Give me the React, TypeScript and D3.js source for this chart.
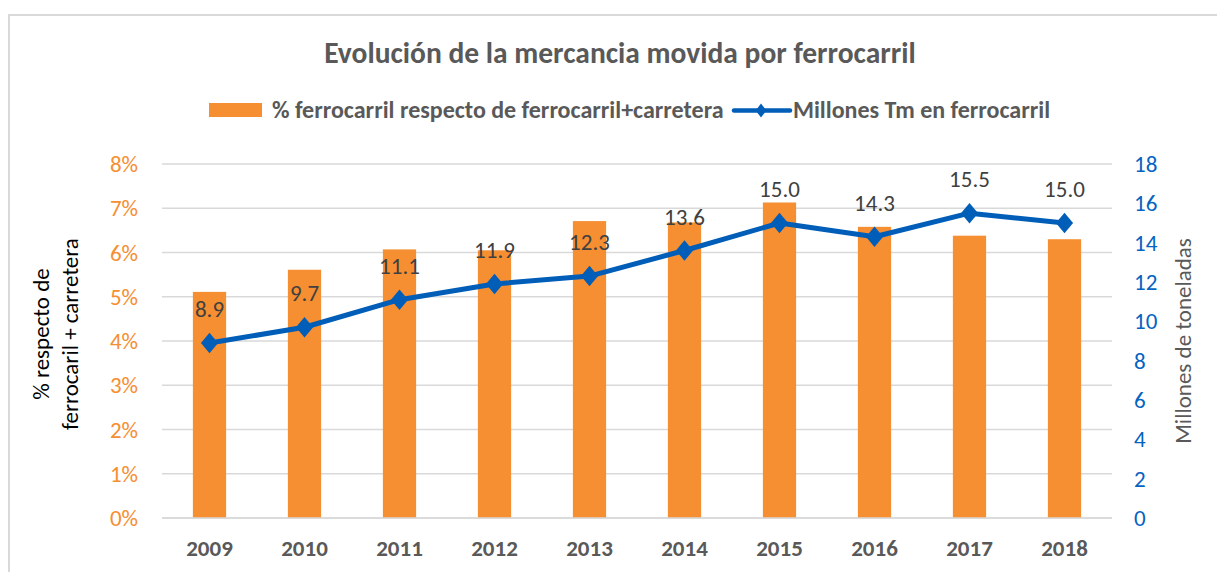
import React, { useEffect, useRef } from "react";
import * as d3 from "d3";

const WIDTH = 1217;
const HEIGHT = 572;
const FONT = "Carlito, Lato, 'Open Sans', sans-serif";

const ORANGE = "#F68E32";
const BLUE = "#005EB8";
const AXIS_BLUE = "#0563C1";
const GREY_TEXT = "#595959";
const GRID = "#D9D9D9";

// data
const years = ["2009", "2010", "2011", "2012", "2013", "2014", "2015", "2016", "2017", "2018"];
const pctRail = [5.11, 5.61, 6.07, 6.05, 6.71, 6.68, 7.13, 6.58, 6.38, 6.3];
const millionTonnes = [8.9, 9.7, 11.1, 11.9, 12.3, 13.6, 15.0, 14.3, 15.5, 15.0];
const leftTicks = [0, 1, 2, 3, 4, 5, 6, 7, 8];
const rightTicks = [0, 2, 4, 6, 8, 10, 12, 14, 16, 18];

const title = "Evolución de la mercancia movida por ferrocarril";
const barLegend = "% ferrocarril respecto de ferrocarril+carretera";
const lineLegend = "Millones Tm en ferrocarril";
const leftTitle = ["% respecto de", "ferrocaril + carretera"];
const rightTitle = "Millones de toneladas";

const margin = { top: 164, right: 105, bottom: 54, left: 162 };

// diamond marker: square rotated 45 and squashed a bit
const diamond = (size: number) => d3.symbol(d3.symbolSquare, size)();

export default function App() {
  const ref = useRef<SVGSVGElement>(null);

  useEffect(() => {
    document.body.style.margin = "0";
    const svg = d3.select(ref.current);
    svg.selectAll("*").remove();

    const x0 = margin.left;
    const x1 = WIDTH - margin.right;
    const y0 = HEIGHT - margin.bottom;
    const y1 = margin.top;

    const x = d3.scaleBand().domain(years).range([x0, x1]).paddingInner(0.65).paddingOuter(0.325);
    const yLeft = d3.scaleLinear().domain([0, 8]).range([y0, y1]);
    const yRight = d3.scaleLinear().domain([0, 18]).range([y0, y1]);

    // frame
    svg.append("rect")
      .attr("x", 9).attr("y", 15)
      .attr("width", WIDTH).attr("height", HEIGHT)
      .attr("fill", "white").attr("stroke", GRID).attr("stroke-width", 2);

    // title
    svg.append("text")
      .attr("x", 620).attr("y", 63)
      .attr("text-anchor", "middle")
      .attr("font-family", FONT).attr("font-size", 29.5).attr("font-weight", "bold")
      .attr("fill", GREY_TEXT)
      .text(title);

    // legend
    const lg = svg.append("g").attr("font-family", FONT).attr("font-size", 24)
      .attr("font-weight", "bold").attr("fill", GREY_TEXT);
    lg.append("rect").attr("x", 209).attr("y", 103).attr("width", 53).attr("height", 14).attr("fill", ORANGE);
    lg.append("text").attr("x", 272).attr("y", 118).text(barLegend);
    lg.append("line").attr("x1", 734).attr("x2", 790).attr("y1", 110.5).attr("y2", 110.5)
      .attr("stroke", BLUE).attr("stroke-width", 4.5).attr("stroke-linecap", "round");
    lg.append("path").attr("d", diamond(100))
      .attr("transform", "translate(761,110.5) scale(0.75,1) rotate(45)").attr("fill", BLUE);
    lg.append("text").attr("x", 793).attr("y", 118).text(lineLegend);

    // gridlines
    svg.append("g").selectAll("line").data(leftTicks).join("line")
      .attr("x1", x0).attr("x2", x1)
      .attr("y1", (d) => yLeft(d)).attr("y2", (d) => yLeft(d))
      .attr("stroke", GRID).attr("stroke-width", 1.5);

    // left axis labels
    svg.append("g").selectAll("text").data(leftTicks).join("text")
      .attr("x", 138).attr("y", (d) => yLeft(d) + 8)
      .attr("text-anchor", "end")
      .attr("font-family", FONT).attr("font-size", 23).attr("fill", ORANGE)
      .text((d) => d + "%");

    // right axis labels
    svg.append("g").selectAll("text").data(rightTicks).join("text")
      .attr("x", 1134).attr("y", (d) => yRight(d) + 8)
      .attr("font-family", FONT).attr("font-size", 23).attr("fill", AXIS_BLUE)
      .text((d) => d);

    // axis titles
    const lt = svg.append("text")
      .attr("transform", `translate(0,334) rotate(-90)`)
      .attr("text-anchor", "middle")
      .attr("font-family", FONT).attr("font-size", 23).attr("fill", "#000");
    leftTitle.forEach((line, i) => {
      lt.append("tspan").attr("x", 0).attr("y", i === 0 ? 49 : 78).text(line);
    });
    svg.append("text")
      .attr("transform", `translate(1191,341) rotate(-90)`)
      .attr("text-anchor", "middle")
      .attr("font-family", FONT).attr("font-size", 23).attr("fill", GREY_TEXT)
      .text(rightTitle);

    // bars
    svg.append("g").selectAll("rect").data(years).join("rect")
      .attr("x", (d) => x(d) as number)
      .attr("width", x.bandwidth())
      .attr("y", (d, i) => yLeft(pctRail[i]))
      .attr("height", (d, i) => y0 - yLeft(pctRail[i]))
      .attr("fill", ORANGE);

    // baseline
    svg.append("line").attr("x1", x0).attr("x2", x1).attr("y1", y0).attr("y2", y0)
      .attr("stroke", GRID).attr("stroke-width", 1.5);

    // x labels
    svg.append("g").selectAll("text").data(years).join("text")
      .attr("x", (d) => (x(d) as number) + x.bandwidth() / 2)
      .attr("y", 556)
      .attr("text-anchor", "middle")
      .attr("font-family", FONT).attr("font-size", 23).attr("font-weight", "bold")
      .attr("fill", GREY_TEXT)
      .text((d) => d);

    // line
    const cx = (i: number) => (x(years[i]) as number) + x.bandwidth() / 2;
    const line = d3.line<number>().x((d, i) => cx(i)).y((d) => yRight(d));
    svg.append("path").datum(millionTonnes)
      .attr("d", line)
      .attr("fill", "none").attr("stroke", BLUE).attr("stroke-width", 5)
      .attr("stroke-linejoin", "round");

    svg.append("g").selectAll("path").data(millionTonnes).join("path")
      .attr("d", diamond(190))
      .attr("transform", (d, i) => `translate(${cx(i)},${yRight(d)}) scale(0.88,1.05) rotate(45)`)
      .attr("fill", BLUE);

    // data labels
    svg.append("g").selectAll("text").data(millionTonnes).join("text")
      .attr("x", (d, i) => cx(i))
      .attr("y", (d) => yRight(d) - 26)
      .attr("text-anchor", "middle")
      .attr("font-family", FONT).attr("font-size", 23).attr("fill", "#404040")
      .text((d) => d.toFixed(1));
  }, []);

  return (
    <svg ref={ref} width={WIDTH} height={HEIGHT} style={{ display: "block" }} />
  );
}
